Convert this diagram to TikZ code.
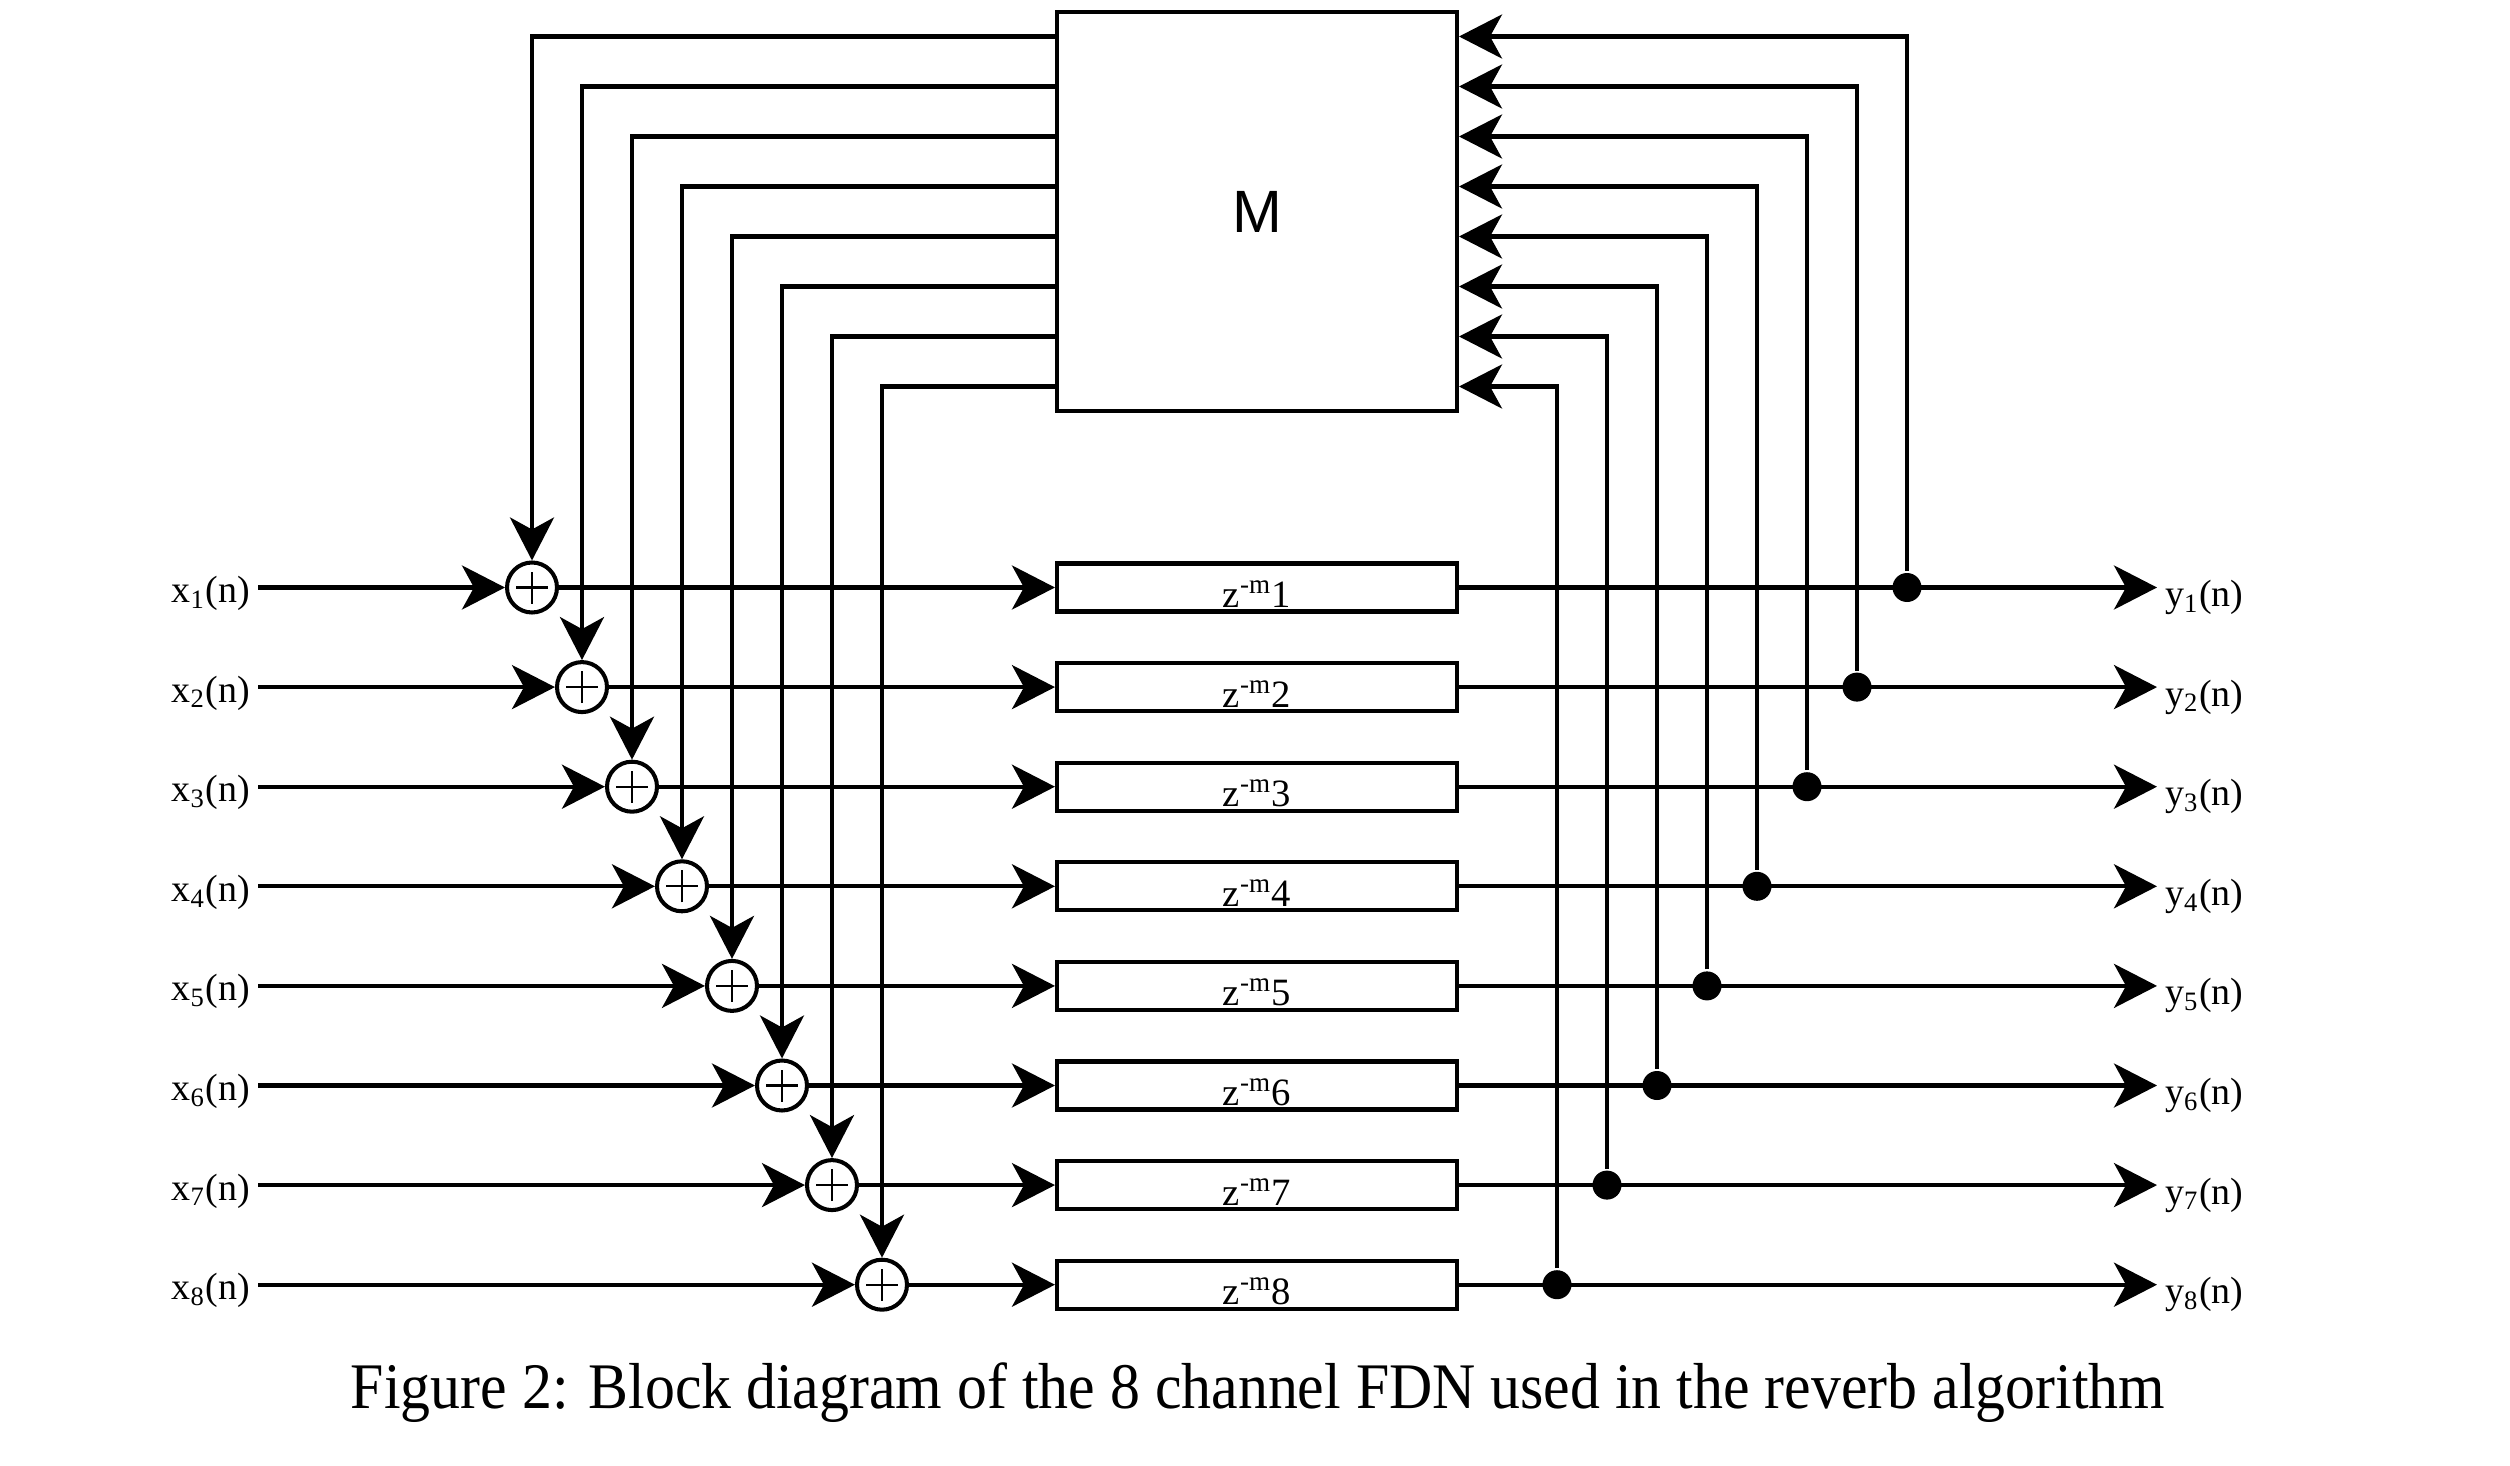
\documentclass[tikz,border=0pt]{standalone}
\usepackage{fontspec}
\setmainfont{Liberation Serif}
\newfontfamily\mfont{Liberation Sans}
\usetikzlibrary{arrows.meta}

\begin{document}
\begin{tikzpicture}[>={Stealth[length=4.3mm, width=4.4mm, inset=1.2mm]}, line width=1.15pt,
    sumnode/.style={circle, draw, minimum size=5mm, inner sep=0pt,
        path picture={\draw[line width=0.6pt]
            ([xshift=-1.6mm]path picture bounding box.center) -- ([xshift=1.6mm]path picture bounding box.center)
            ([yshift=-1.6mm]path picture bounding box.center) -- ([yshift=1.6mm]path picture bounding box.center);}},
    delaybox/.style={draw, minimum width=4cm, minimum height=4.8mm, inner sep=0pt,
        font=\fontsize{11}{13}\selectfont, text height=4mm, text depth=0pt},
    sig/.style={font=\fontsize{10.8}{13}\selectfont, inner sep=0.6mm},
    tap/.style={circle, fill, minimum size=2.9mm, inner sep=0pt}]
    \useasboundingbox (0,0) rectangle (25.1,14.65);

    % Matrice de retour
    \node[draw, minimum width=4cm, minimum height=3.99cm, font=\mfont\fontsize{17}{20}\selectfont] (M) at (12.57,12.535) {M};

    % Lignes : entree, sommateur, retard, sortie et retour
    \foreach \i [evaluate=\i as \yr using {8.775-0.996*(\i-1)},
                 evaluate=\i as \xs using {5.32+0.5*(\i-1)},
                 evaluate=\i as \xt using {19.07-0.5*(\i-1)},
                 evaluate=\i as \yf using {1.75-0.5*(\i-1)}] in {1,...,8} {
        \node[sig, anchor=base east] (x\i) at (2.58,\yr-0.15) {x\textsubscript{\i}(n)};
        \node[sumnode] (sum\i) at (\xs,\yr) {};
        \node[delaybox] (z\i) at (12.57,\yr) {z\textsuperscript{-m}\i};
        \node[sig, anchor=base west] (y\i) at (21.57,\yr-0.19) {y\textsubscript{\i}(n)};
        \coordinate (fbL\i) at ([yshift=\yf cm]M.west);
        \coordinate (fbR\i) at ([yshift=\yf cm]M.east);

        \draw[->] (x\i.east |- sum\i) -- (sum\i);
        \draw[->] (sum\i) -- (z\i);
        \draw[->] (z\i) -- (y\i.west |- z\i);
        \draw[->] (fbL\i) -| (sum\i);
        \node[tap] (t\i) at (\xt,\yr) {};
        \draw[->] (t\i) |- (fbR\i);
    }

    \node[font=\fontsize{18.5}{22}\selectfont, xscale=0.92, anchor=base] (cap) at (12.58,0.57) {Figure 2: Block diagram of the 8 channel FDN used in the reverb algorithm};
\end{tikzpicture}
\end{document}
